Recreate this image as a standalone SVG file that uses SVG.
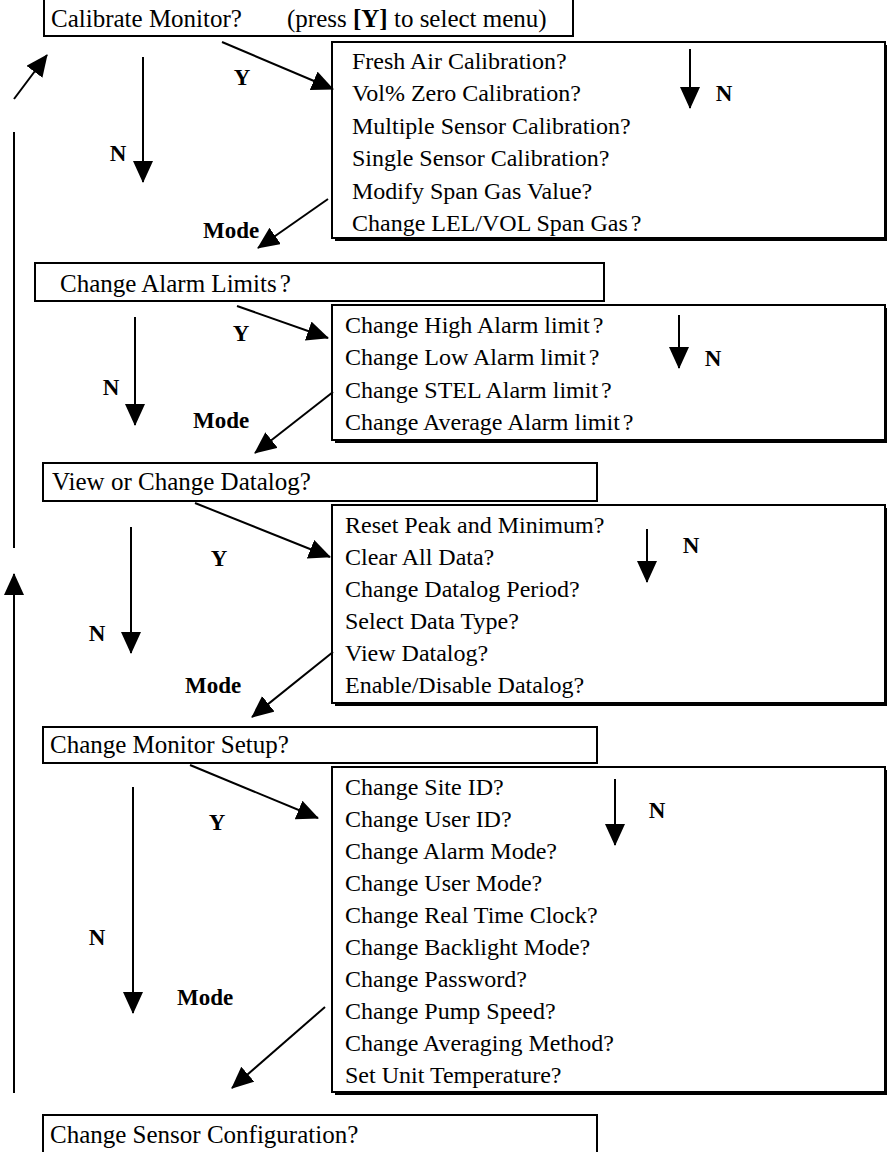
<svg xmlns="http://www.w3.org/2000/svg" width="887" height="1152" viewBox="0 0 887 1152">
<defs>
<marker id="ah" markerUnits="userSpaceOnUse" markerWidth="24" markerHeight="22" refX="21" refY="10" orient="auto">
<path d="M0,0 L22,10 L0,20 z" fill="#000"/>
</marker>
<style>
.box{fill:#fff;stroke:#000;stroke-width:2}
.shadow{fill:#000}
.t{font-family:"Liberation Serif","Times New Roman",serif;font-size:25px;fill:#000}
.i{font-family:"Liberation Serif","Times New Roman",serif;font-size:24px;fill:#000}
.l{font-family:"Liberation Serif","Times New Roman",serif;font-size:23px;font-weight:bold;fill:#000}
.c{stroke:#000;stroke-width:2;fill:none}
.a{stroke:#000;stroke-width:2;fill:none;marker-end:url(#ah)}
</style>
</defs>
<rect width="887" height="1152" fill="#fff"/>

<g id="calibrate-monitor">
<rect class="box" x="44" y="-1" width="529" height="37"/>
<text class="t" x="51" y="27">Calibrate Monitor?<tspan x="287">(press </tspan><tspan font-weight="bold">[Y]</tspan> to select menu)</text>
</g>

<g id="calibrate-menu">
<rect class="shadow" x="335" y="45" width="553" height="196"/>
<rect class="box" x="332" y="42" width="553" height="196"/>
<text class="i" x="352" y="69">Fresh Air Calibration?</text>
<text class="i" x="352" y="101">Vol% Zero Calibration?</text>
<text class="i" x="352" y="134">Multiple Sensor Calibration?</text>
<text class="i" x="352" y="166">Single Sensor Calibration?</text>
<text class="i" x="352" y="199">Modify Span Gas Value?</text>
<text class="i" x="352" y="231">Change LEL/VOL Span Gas<tspan dx="3">?</tspan></text>
</g>

<g id="alarm-limits">
<rect class="box" x="35" y="263" width="569" height="38"/>
<text class="t" x="60" y="292">Change Alarm Limits<tspan dx="3">?</tspan></text>
</g>

<g id="alarm-menu">
<rect class="shadow" x="335" y="308" width="553" height="135"/>
<rect class="box" x="332" y="305" width="553" height="135"/>
<text class="i" x="345" y="333">Change High Alarm limit<tspan dx="3">?</tspan></text>
<text class="i" x="345" y="365">Change Low Alarm limit<tspan dx="3">?</tspan></text>
<text class="i" x="345" y="398">Change STEL Alarm limit<tspan dx="3">?</tspan></text>
<text class="i" x="345" y="430">Change Average Alarm limit<tspan dx="3">?</tspan></text>
</g>

<g id="datalog">
<rect class="box" x="43" y="463" width="554" height="38"/>
<text class="t" x="52" y="490">View or Change Datalog?</text>
</g>

<g id="datalog-menu">
<rect class="shadow" x="335" y="508" width="553" height="198"/>
<rect class="box" x="332" y="505" width="553" height="198"/>
<text class="i" x="345" y="533">Reset Peak and Minimum?</text>
<text class="i" x="345" y="565">Clear All Data?</text>
<text class="i" x="345" y="597">Change Datalog Period?</text>
<text class="i" x="345" y="629">Select Data Type?</text>
<text class="i" x="345" y="661">View Datalog?</text>
<text class="i" x="345" y="693">Enable/Disable Datalog?</text>
</g>

<g id="monitor-setup">
<rect class="box" x="43" y="727" width="554" height="36"/>
<text class="t" x="50" y="753">Change Monitor Setup?</text>
</g>

<g id="setup-menu">
<rect class="shadow" x="335" y="770" width="553" height="325"/>
<rect class="box" x="332" y="767" width="553" height="325"/>
<text class="i" x="345" y="795">Change Site ID?</text>
<text class="i" x="345" y="827">Change User ID?</text>
<text class="i" x="345" y="859">Change Alarm Mode?</text>
<text class="i" x="345" y="891">Change User Mode?</text>
<text class="i" x="345" y="923">Change Real Time Clock?</text>
<text class="i" x="345" y="955">Change Backlight Mode?</text>
<text class="i" x="345" y="987">Change Password?</text>
<text class="i" x="345" y="1019">Change Pump Speed?</text>
<text class="i" x="345" y="1051">Change Averaging Method?</text>
<text class="i" x="345" y="1083">Set Unit Temperature?</text>
</g>

<g id="sensor-config">
<rect class="box" x="43" y="1115" width="554" height="45"/>
<text class="t" x="50" y="1143">Change Sensor Configuration?</text>
</g>

<g id="connectors">
<line class="a" x1="222" y1="42" x2="333" y2="89"/>
<line class="a" x1="143" y1="57" x2="143" y2="182"/>
<line class="a" x1="328" y1="199" x2="258" y2="248"/>
<line class="a" x1="690" y1="49" x2="690" y2="108"/>
<line class="a" x1="14" y1="99" x2="47" y2="55"/>

<line class="a" x1="237" y1="306" x2="328" y2="338"/>
<line class="a" x1="135" y1="317" x2="135" y2="425"/>
<line class="a" x1="333" y1="392" x2="255" y2="453"/>
<line class="a" x1="679" y1="315" x2="679" y2="368"/>

<line class="a" x1="195" y1="503" x2="330" y2="557"/>
<line class="a" x1="131" y1="527" x2="131" y2="653"/>
<line class="a" x1="333" y1="652" x2="252" y2="717"/>
<line class="a" x1="647" y1="529" x2="647" y2="582"/>

<line class="a" x1="190" y1="765" x2="318" y2="818"/>
<line class="a" x1="133" y1="787" x2="133" y2="1013"/>
<line class="a" x1="325" y1="1007" x2="232" y2="1088"/>
<line class="a" x1="615" y1="779" x2="615" y2="845"/>

<line class="c" x1="14" y1="132" x2="14" y2="548"/>
<line class="a" x1="14" y1="1093" x2="14" y2="574"/>

<text class="l" x="242" y="85" text-anchor="middle">Y</text>
<text class="l" x="118" y="161" text-anchor="middle">N</text>
<text class="l" x="203" y="238">Mode</text>
<text class="l" x="724" y="101" text-anchor="middle">N</text>

<text class="l" x="241" y="341" text-anchor="middle">Y</text>
<text class="l" x="111" y="395" text-anchor="middle">N</text>
<text class="l" x="193" y="428">Mode</text>
<text class="l" x="713" y="366" text-anchor="middle">N</text>

<text class="l" x="219" y="566" text-anchor="middle">Y</text>
<text class="l" x="97" y="641" text-anchor="middle">N</text>
<text class="l" x="185" y="693">Mode</text>
<text class="l" x="691" y="553" text-anchor="middle">N</text>

<text class="l" x="217" y="830" text-anchor="middle">Y</text>
<text class="l" x="97" y="945" text-anchor="middle">N</text>
<text class="l" x="177" y="1005">Mode</text>
<text class="l" x="657" y="818" text-anchor="middle">N</text>
</g>
</svg>
